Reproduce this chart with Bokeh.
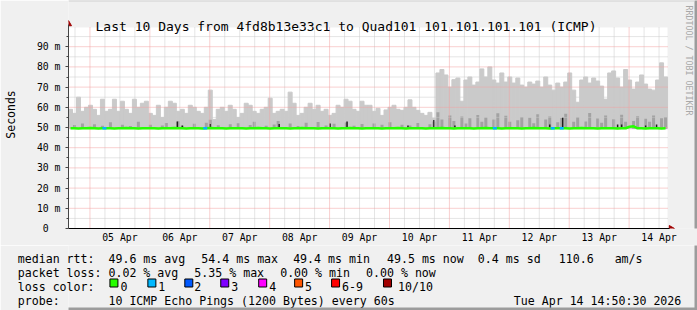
import math
from bokeh.plotting import figure
from bokeh.layouts import column
from bokeh.models import Range1d, FixedTicker, Label, BoxAnnotation, ColumnDataSource
from bokeh.core.properties import value
from bokeh.embed import file_html
from bokeh.resources import INLINE

FONT = "DejaVu Sans Mono"

# ---------------- data ----------------
title_text = "Last 10 Days from 4fd8b13e33c1 to Quad101 101.101.101.101 (ICMP)"
credit_text = "RRDTOOL / TOBI OETIKER"
day_labels = ["05 Apr", "06 Apr", "07 Apr", "08 Apr", "09 Apr",
              "10 Apr", "11 Apr", "12 Apr", "13 Apr", "14 Apr"]
y_ticks = [0, 10, 20, 30, 40, 50, 60, 70, 80, 90]
y_tick_labels = ["0", "10 m", "20 m", "30 m", "40 m", "50 m", "60 m", "70 m", "80 m", "90 m"]

# time axis in hours after 05 Apr 00:00; one column every 1.6 h (96 min)
start_hour = -8.6
step_hours = 1.6
span_hours = 240

# top of smoke (max ping, ms) per column
max_ms = [
    59, 57, 65, 58, 60, 61, 59, 56, 64, 58,
    59, 64, 58, 63, 59, 57, 64, 60, 62, 63,
    57, 56, 61, 55, 60, 63, 62, 58, 59, 57,
    61, 60, 58, 57, 60, 68.5, 54, 59, 60, 58,
    61, 59, 55, 57, 62, 61, 58, 57, 59, 60,
    64.5, 57, 58, 59, 58, 67.5, 62, 56, 57, 60,
    62, 59, 61, 58, 59, 56, 57, 61, 60, 64,
    63, 59, 58, 63, 61,
    61, 58, 59.5, 56, 58.7, 60, 61, 59, 58.5, 60,
    63.7, 60, 58.5, 57, 56, 57.5, 54.5, 77, 78.7, 76,
    70, 73.7, 74.5, 63, 73.5, 75, 71, 72.5, 79, 75,
    80, 73.5, 72, 77, 72.5, 75, 72, 74.5, 71, 70,
    72.5, 71.5, 73, 70, 75, 71, 68.5, 72, 70, 72.5,
    77, 68.5, 62.5, 73.5, 75, 72, 74.5, 73, 70.5, 64,
    77, 78, 74.5, 70, 78.7, 73.5, 69, 72.5, 76, 71.5,
    69, 68.5, 73.5, 82, 75,
]

# top of the darker (denser) smoke per column, ms (49.4 = none)
dark_ms = [
    49.4, 51.2, 49.4, 52.0, 49.4, 49.4, 51.6, 49.4, 50.9, 49.4,
    52.6, 49.4, 49.4, 51.4, 49.4, 50.8, 49.4, 52.9, 49.4, 49.4,
    51.3, 49.4, 49.4, 51.0, 52.2, 49.4, 49.4, 53.1, 50.9, 49.4,
    49.4, 51.8, 49.4, 49.4, 52.4, 53.8, 49.4, 51.1, 49.4, 49.4,
    51.6, 49.4, 52.1, 49.4, 49.4, 51.2, 52.8, 49.4, 49.4, 50.9,
    49.4, 51.5, 53.2, 49.4, 49.4, 52.0, 49.4, 50.8, 49.4, 52.3,
    49.4, 49.4, 52.7, 49.4, 51.0, 49.4, 51.9, 49.4, 49.4, 52.5,
    49.4, 50.9, 49.4, 51.7, 49.4, 49.4, 52.0, 49.4, 51.3, 49.4,
    52.6, 49.4, 49.4, 51.4, 49.4, 51.0, 49.4, 52.2, 49.4, 49.4,
    51.6, 53.0,
    57.5, 54.0, 49.4, 56.0, 53.2, 49.4, 55.5, 52.0, 54.6, 49.4,
    56.2, 52.8, 55.0, 49.4, 54.0, 57.0, 49.4, 55.8, 52.9, 49.4,
    53.6, 55.2, 49.4, 54.8, 52.1, 56.5, 49.4, 54.0, 55.4, 49.4,
    52.6, 54.7, 56.8, 49.4, 52.9, 55.1, 49.4, 53.0, 57.2, 49.4,
    54.5, 52.4, 55.9, 49.4, 54.1, 49.4, 56.3, 52.9, 49.4, 53.2,
    55.6, 49.4, 54.3, 52.8, 56.0, 49.4, 54.6, 55.2,
]

# median rtt per column, ms
median_ms = [
    49.6, 49.6, 49.5, 49.6, 49.6, 49.7, 49.6, 49.5, 49.6, 49.6,
    49.6, 49.5, 49.6, 49.6, 49.7, 49.6, 49.6, 49.5, 49.6, 49.6,
    49.6, 49.6, 49.5, 49.6, 49.6, 49.6, 49.7, 49.6, 49.6, 49.5,
    49.6, 49.6, 49.6, 49.5, 49.6, 49.7, 49.6, 49.6, 49.6, 49.5,
    49.6, 49.6, 49.6, 49.6, 49.5, 49.6, 49.6, 49.7, 49.6, 49.6,
    49.5, 49.6, 49.6, 49.6, 49.6, 49.5, 49.6, 49.6, 49.7, 49.6,
    49.6, 49.6, 49.5, 49.6, 49.6, 49.6, 49.6, 49.5, 49.6, 49.6,
    49.7, 49.6, 49.6, 49.5, 49.6, 49.6, 49.6, 49.6, 49.5, 49.6,
    49.6, 49.6, 49.7, 49.6, 49.5, 49.6, 49.6, 49.6, 49.6, 49.5,
    49.6, 49.6, 49.6, 49.7, 49.6, 49.6, 49.5, 49.6, 49.6, 49.6,
    49.6, 49.5, 49.6, 49.6, 49.7, 49.6, 49.6, 49.6, 49.5, 49.6,
    49.6, 49.6, 49.6, 49.5, 49.6, 49.6, 49.7, 49.6, 49.6, 49.6,
    49.5, 49.6, 49.6, 49.6, 49.6, 49.5, 49.6, 49.6, 49.7, 49.6,
    49.6, 49.6, 49.5, 49.6, 49.6, 49.6, 49.6, 49.5, 49.6, 49.6,
    50.4, 50.6, 49.6, 49.6, 49.5, 49.6, 49.6, 49.6, 49.5, 49.6,
]

# narrow dark spikes (hours after 05 Apr 00:00, top in ms)
spike_hours = [35.0, 37.0, 48.2, 75.8, 96.2, 103.0, 127.4, 137.8, 146.2,
               184.2, 189.4, 211.4, 213.0, 222.6, 227.0]
spike_top_ms = [53.0, 51.0, 51.7, 51.7, 52.0, 53.0, 51.0, 53.7, 51.0,
                51.5, 55.0, 51.5, 51.5, 51.0, 51.5]

# columns with packet loss (hours, lost pings out of 10)
loss_hours = [5.8, 46.2, 162.2, 185.4, 189.0]
loss_counts = [1, 1, 1, 1, 1]

loss_labels = ["0", "1", "2", "3", "4", "5", "6-9", "10/10"]
loss_colors = ["#26ff00", "#00b8ff", "#0059ff", "#7e00ff", "#ff00ff", "#ff5500", "#ff0000", "#a10000"]

row_headers = ["median rtt:", "packet loss:", "loss color:", "probe:"]
rtt_stats = ["49.6 ms avg", "54.4 ms max", "49.4 ms min", "49.5 ms now", "0.4 ms sd", "110.6", "am/s"]
loss_stats = ["0.02 % avg", "5.35 % max", "0.00 % min", "0.00 % now"]
probe_text = "10 ICMP Echo Pings (1200 Bytes) every 60s"
stamp_text = "Tue Apr 14 14:50:30 2026"

# ---------------- geometry (pixels) ----------------
W = 697
MAIN_H = 245
LEG_H = 310 - MAIN_H
FL = 67            # plot area left edge
FB_Y = 228         # x axis (0 ms) row
PX_PER_H = 2.5
PX_PER_MS = 2.02
BG = "#f0f0f0"
LEG_SIZE = "11.6px"
CHAR_W = 6.985     # advance of DejaVu Sans Mono at LEG_SIZE

def xd(px):
    return start_hour + (px - FL) / PX_PER_H

def yd(py):
    return (FB_Y - py) / PX_PER_MS

n = len(max_ms)
t = [start_hour + step_hours * (i + 0.5) for i in range(n)]
x_end = start_hour + span_hours

p = figure(width=W, height=MAIN_H, output_backend="svg", toolbar_location=None,
           x_range=Range1d(start_hour, xd(W)), y_range=Range1d(0, yd(0)),
           min_border_left=FL, min_border_right=0, min_border_top=0,
           min_border_bottom=MAIN_H - FB_Y,
           background_fill_color=BG, border_fill_color=BG)
p.title.visible = False
p.outline_line_color = None
p.grid.visible = False

# white canvas of the graph
p.add_layout(BoxAnnotation(left=start_hour, right=x_end, bottom=0, top=yd(27),
                           fill_color="white", fill_alpha=1.0, line_color=None, level="underlay"))

# smoke
src = ColumnDataSource(dict(t=t, top=max_ms, dark=dark_ms, med=median_ms))
p.vbar(x="t", width=step_hours, bottom=49.4, top="top", source=src,
       fill_color="#cacaca", line_color="#cacaca", line_width=1)
p.vbar(x="t", width=step_hours * 0.75, bottom=49.4, top="dark", source=src,
       fill_color="#a2a2a2", line_color=None)
p.vbar(x=spike_hours, width=0.6, bottom=49.4, top=spike_top_ms,
       fill_color="#1e1e1e", line_color=None)

# grid (drawn over the smoke, limited to the graph canvas)
midnights = [24 * d for d in range(10)]
noons = [24 * d + 12 for d in range(10)]
six_h = [h for h in range(-6, 232, 6) if h % 24 != 0 and start_hour < h < x_end]
y_major = y_ticks[1:]
y_minor = [5 + 10 * k for k in range(10)]
top_ms = yd(27)
MINOR_C, MAJOR_C = "#cacaca", "#f2a0a0"
p.segment(x0=six_h, x1=six_h, y0=[0] * len(six_h), y1=[top_ms] * len(six_h),
          line_color=MINOR_C, line_dash="1 1", line_width=1)
p.segment(x0=[start_hour] * len(y_minor), x1=[x_end] * len(y_minor), y0=y_minor, y1=y_minor,
          line_color=MINOR_C, line_dash="1 1", line_width=1)
p.segment(x0=midnights, x1=midnights, y0=[0] * len(midnights), y1=[top_ms] * len(midnights),
          line_color=MAJOR_C, line_dash="1 1", line_width=1)
p.segment(x0=[start_hour] * len(y_major), x1=[x_end] * len(y_major), y0=y_major, y1=y_major,
          line_color=MAJOR_C, line_dash="1 1", line_width=1)

# median line coloured by loss
p.line(t, median_ms, line_color=loss_colors[0], line_width=2.6)
def loss_index(c):
    if c <= 5:
        return c
    return 6 if c < 10 else 7
p.segment(x0=[h - 0.8 for h in loss_hours], x1=[h + 0.8 for h in loss_hours],
          y0=[49.6] * len(loss_hours), y1=[49.6] * len(loss_hours),
          line_color=[loss_colors[loss_index(c)] for c in loss_counts], line_width=2.6)

# axes
p.yaxis.ticker = FixedTicker(ticks=y_ticks, minor_ticks=y_minor)
ov = {v: s for v, s in zip(y_ticks, y_tick_labels)}
ov[0] = "0\u00a0\u00a0"
p.yaxis.major_label_overrides = ov
p.yaxis.bounds = (0, yd(24))
p.yaxis.major_tick_out = 3
p.yaxis.major_tick_in = 0
p.yaxis.minor_tick_out = 2
p.yaxis.minor_tick_in = 0
p.yaxis.major_label_standoff = 5
p.yaxis.axis_line_color = "#444444"
p.yaxis.major_tick_line_color = "#444444"
p.yaxis.minor_tick_line_color = "#444444"
p.yaxis.axis_label = "Seconds"
p.yaxis.axis_label_text_font = FONT
p.yaxis.axis_label_text_font_size = "11.5px"
p.yaxis.axis_label_text_font_style = "normal"
p.yaxis.axis_label_text_color = "black"
p.yaxis.axis_label_standoff = 16

p.xaxis.ticker = FixedTicker(ticks=noons)
p.xaxis.major_label_overrides = {h: s for h, s in zip(noons, day_labels)}
p.xaxis.bounds = (start_hour, xd(669))
p.xaxis.major_tick_out = 0
p.xaxis.major_tick_in = 0
p.xaxis.minor_tick_line_color = None
p.xaxis.major_tick_line_color = None
p.xaxis.major_label_standoff = 3
p.xaxis.axis_line_color = "black"

for ax in (p.xaxis[0], p.yaxis[0]):
    ax.major_label_text_font = FONT
    ax.major_label_text_font_size = "9.8px"
    ax.major_label_text_color = "black"

# arrow heads at the ends of the axes
p.scatter(x=[start_hour], y=[yd(23.5)], marker="triangle", size=6,
          fill_color="#a00000", line_color="#a00000")
p.scatter(x=[xd(670.5)], y=[0], marker="triangle", size=6, angle=-math.pi / 2,
          fill_color="#a00000", line_color="#a00000")

def lab(xc, yc, text, size="11.6px", color="black", **kw):
    # canvas pixel position -> frame-relative screen units
    p.add_layout(Label(x=xc - FL, y=FB_Y - yc, x_units="screen", y_units="screen",
                       text=text, text_font=FONT, text_font_size=size, text_color=color,
                       text_baseline=kw.pop("baseline", "alphabetic"),
                       text_align=kw.pop("align", "left"), **kw))

lab(344.5, 26, title_text, size="13px", align="center")
lab(687, 5, credit_text, size="8.3px", color="#a8a8a8", baseline="middle", angle=-math.pi / 2)

# 3-D frame pieces inside the main figure
p.quad(left=[xd(W - 3)], right=[xd(W + 1)], bottom=[yd(MAIN_H + 1)], top=[yd(-1)],
       fill_color="#9c9c9c", line_color=None)
p.quad(left=[xd(FL)], right=[xd(W - 3)], bottom=[yd(1)], top=[yd(-1)],
       fill_color="#cfcfcf", line_color=None)

# ---------------- legend strip ----------------
# its frame is aligned with the graph (starts at x = FL); x and y data = canvas pixels
row_y = [258, 272, 286, 300]
lg = figure(width=W, height=LEG_H, output_backend="svg", toolbar_location=None,
            x_range=Range1d(FL, W), y_range=Range1d(310, MAIN_H),
            min_border_left=FL, min_border_right=0, min_border_top=0, min_border_bottom=0,
            x_axis_location=None, y_axis_location="left",
            background_fill_color=BG, border_fill_color=BG)
lg.title.visible = False
lg.outline_line_color = None
lg.grid.visible = False

# row headers sit in the left margin as tick labels (12 columns wide, starting at x = 16)
hdr_ticks = [y for y in row_y]
lg.yaxis.ticker = FixedTicker(ticks=hdr_ticks, minor_ticks=[])
lg.yaxis.major_label_overrides = {tk: h + "\u00a0" * (12 - len(h)) for tk, h in zip(hdr_ticks, row_headers)}
lg.yaxis.major_label_text_font = FONT
lg.yaxis.major_label_text_font_size = LEG_SIZE
lg.yaxis.major_label_text_color = "black"
lg.yaxis.axis_line_color = None
lg.yaxis.major_tick_line_color = None
lg.yaxis.minor_tick_line_color = None
lg.yaxis.major_tick_out = 0
lg.yaxis.major_tick_in = 0
lg.yaxis.major_label_standoff = int(round(16 + 12 * CHAR_W - FL)) * -1

tx, ty, tt = [], [], []
def add(xc, yc, s):
    tx.append(xc); ty.append(yc); tt.append(s)

for xc, s in zip([107, 200, 292, 386, 477, 558, 614], rtt_stats):
    add(xc, row_y[0], s)
for xc, s in zip([107, 193, 279, 365], loss_stats):
    add(xc, row_y[1], s)
sq_x = [108, 146, 183, 219, 257, 293, 330, 382]
lab_x = [119, 157, 193, 230, 268, 304, 341, 397]
for lx, s in zip(lab_x, loss_labels):
    add(lx, row_y[2], s)
add(107, row_y[3], probe_text)
add(513, row_y[3], stamp_text)

lg.text(x=tx, y=ty, text=tt, text_font=value(FONT), text_font_size=LEG_SIZE,
        text_color="black", text_baseline="alphabetic", text_align="left")
lg.quad(left=[x + 0.5 for x in sq_x], right=[x + 8.5 for x in sq_x],
        top=[278.5] * len(sq_x), bottom=[286.5] * len(sq_x),
        fill_color=loss_colors, line_color="black", line_width=1)

# 3-D frame pieces of the legend strip
lg.quad(left=[W - 3], right=[W + 1], top=[MAIN_H - 1], bottom=[311], fill_color="#9c9c9c", line_color=None)
lg.quad(left=[FL - 1], right=[W + 1], top=[307], bottom=[311], fill_color="#9c9c9c", line_color=None)

layout = column(p, lg, spacing=0)
open("out.html", "w").write(file_html(layout, INLINE))
